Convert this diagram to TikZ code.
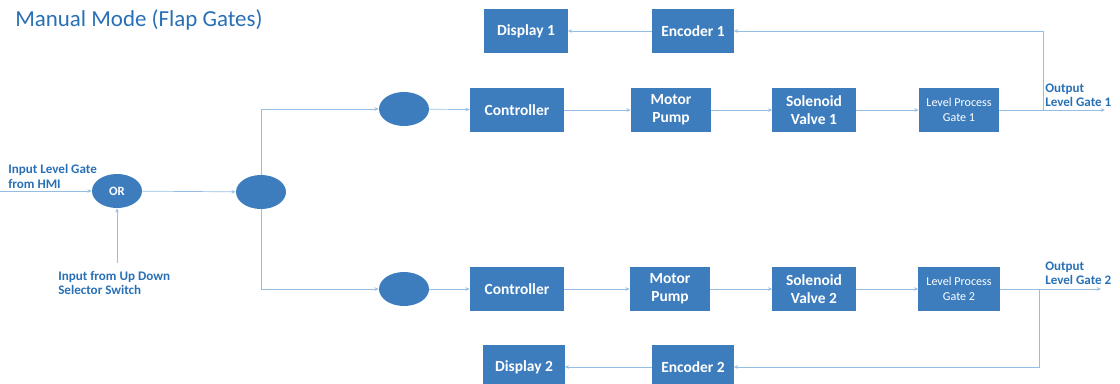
\documentclass[tikz,border=0pt]{standalone}
\usepackage{fontspec}
\setmainfont{Carlito}
\usetikzlibrary{arrows.meta,shapes.geometric}

\definecolor{boxblue}{RGB}{61,125,190}
\definecolor{lineblue}{RGB}{150,190,228}
\definecolor{textblue}{RGB}{40,112,182}

\tikzset{
  blk/.style={fill=boxblue, text=white, inner sep=0pt, minimum height=1.1cm,
    align=center, font=\bfseries\fontsize{11}{13}\selectfont},
  gate/.style={ellipse, fill=boxblue, text=white, inner sep=0pt,
    minimum width=1.25cm, minimum height=0.85cm, font=\bfseries\fontsize{9}{10}\selectfont},
  lbl/.style={text=textblue, align=left, anchor=west, inner sep=0pt,
    font=\bfseries\fontsize{9.3}{10.3}\selectfont},
  flow/.style={draw=lineblue, line width=0.5pt, -{Stealth[length=3pt,width=2.5pt]}},
}

\begin{document}
\begin{tikzpicture}[x=0.025cm, y=-0.025cm]
\clip (0,0) rectangle (1120,383);

\node[text=textblue, anchor=west, inner sep=0pt, font=\fontsize{16.3}{18}\selectfont] (title) at (15,20) {Manual Mode (Flap Gates)};

% input side
\node[gate] (or) at (117,191) {OR};
\node[gate] (junc) at (261,192) {};
\coordinate (hmi) at (0,191);
\coordinate (sel) at (117,263);
\node[lbl] (hmitxt) at (8,176.5) {Input Level Gate\\from HMI};
\node[lbl] (seltxt) at (58,283) {Input from Up Down\\Selector Switch};

% gate 1
\node[gate] (ell1) at (404,109) {};
\node[blk, minimum width=2.35cm] (ctl1) at (517,110) {Controller};
\node[blk, minimum width=2cm] (pump1) at (671,110) {Motor\\Pump};
\node[blk, minimum width=2.075cm] (sol1) at (814,110) {Solenoid\\Valve 1};
\node[blk, minimum width=2cm, font=\fontsize{8.6}{10.5}\selectfont] (lvl1) at (959,110) {Level Process\\Gate 1};
\node[blk, minimum width=2.075cm] (disp1) at (526,31) {Display 1};
\node[blk, minimum width=2.025cm] (enc1) at (693,31) {Encoder 1};
\coordinate (out1) at (1105,110);
\coordinate (fb1) at (1043,110);
\node[lbl] (out1txt) at (1045,95) {Output\\Level Gate 1};

% gate 2
\node[gate] (ell2) at (404,289) {};
\node[blk, minimum width=2.35cm] (ctl2) at (517,289) {Controller};
\node[blk, minimum width=2cm] (pump2) at (670,289) {Motor\\Pump};
\node[blk, minimum width=2.075cm] (sol2) at (814,289) {Solenoid\\Valve 2};
\node[blk, minimum width=2.025cm, font=\fontsize{8.6}{10.5}\selectfont] (lvl2) at (959,289) {Level Process\\Gate 2};
\node[blk, minimum width=2.025cm] (disp2) at (524,367) {Display 2};
\node[blk, minimum width=2.025cm] (enc2) at (693,367) {Encoder 2};
\coordinate (out2) at (1101,289);
\coordinate (fb2) at (1039,289);
\node[lbl] (out2txt) at (1045,273.5) {Output\\Level Gate 2};

% connectors
\draw[flow] (hmi) -- (or);
\draw[flow] (sel) -- (or);
\draw[flow] (or) -- (junc);
\draw[flow] (junc.north) |- (ell1.west);
\draw[flow] (junc.south) |- (ell2.west);

\draw[flow] (ell1) -- (ctl1);
\draw[flow] (ctl1) -- (pump1);
\draw[flow] (pump1) -- (sol1);
\draw[flow] (sol1) -- (lvl1);
\draw[flow] (lvl1) -- (out1);
\draw[flow] (fb1) |- (enc1.east);
\draw[flow] (enc1) -- (disp1);

\draw[flow] (ell2) -- (ctl2);
\draw[flow] (ctl2) -- (pump2);
\draw[flow] (pump2) -- (sol2);
\draw[flow] (sol2) -- (lvl2);
\draw[flow] (lvl2) -- (out2);
\draw[flow] (fb2) |- (enc2.east);
\draw[flow] (enc2) -- (disp2);
\end{tikzpicture}
\end{document}
